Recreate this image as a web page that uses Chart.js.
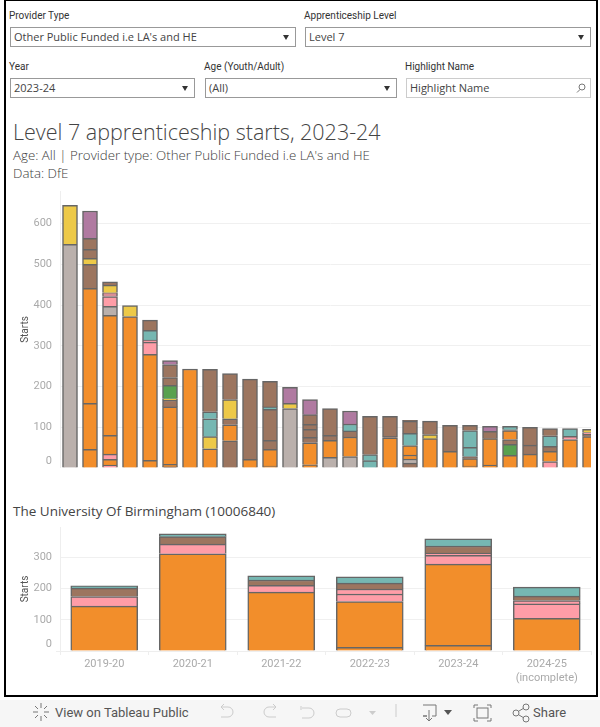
<!DOCTYPE html>
<html>
<head>
<meta charset="utf-8">
<script src="https://cdn.jsdelivr.net/npm/chart.js@4"></script>
<style>
  html, body { margin: 0; padding: 0; background: #fff; }
  body { width: 600px; height: 727px; position: relative; overflow: hidden; font-family: "Open Sans", sans-serif; color: #333; }
  .frame { position: absolute; left: 4px; top: 0; width: 590px; height: 694px; border: 2px solid #000; border-top: 1px solid #000; }
  .lbl { position: absolute; font-size: 10px; line-height: 12px; color: #333; font-family: "Roboto", sans-serif; }
  .box { position: absolute; height: 18px; border: 1px solid #999; font-size: 11px; line-height: 18px; padding-left: 3px; color: #444; }
  .box i { position: absolute; right: 6px; top: 7px; width: 0; height: 0; border-left: 3.5px solid transparent; border-right: 3.5px solid transparent; border-top: 5px solid #333; }
  .search { border-color: #ccc; }
  .txt { position: absolute; white-space: nowrap; }
  .wrap { position: absolute; overflow: hidden; }
  canvas { display: block; }
  .bar { position: absolute; left: 0; top: 700px; width: 600px; height: 27px; background: #f6f6f6; color: #555; font-family: "Roboto", sans-serif; font-size: 13px; }
  .bar svg { position: absolute; top: -4px; left: 0; }
</style>
</head>
<body>
<div class="frame"></div>

<div class="lbl" style="left:9px;top:10px">Provider Type</div>
<div class="box" style="left:10px;top:27px;width:281px">Other Public Funded i.e LA's and HE<i></i></div>
<div class="lbl" style="left:304px;top:10px">Apprenticeship Level</div>
<div class="box" style="left:305px;top:27px;width:281px">Level 7<i></i></div>
<div class="lbl" style="left:9px;top:61px">Year</div>
<div class="box" style="left:10px;top:78px;width:180px">2023-24<i></i></div>
<div class="lbl" style="left:204px;top:61px">Age (Youth/Adult)</div>
<div class="box" style="left:205px;top:78px;width:187px">(All)<i></i></div>
<div class="lbl" style="left:405px;top:61px">Highlight Name</div>
<div class="box search" style="left:406px;top:78px;width:180px">Highlight Name
  <svg width="10" height="10" style="position:absolute;right:4px;top:4px" fill="none" stroke="#777"><circle cx="6" cy="4" r="3"/><path d="M4 6.500L1 9.500"/></svg>
</div>

<div class="txt" style="left:13px;top:118px;font-size:21.5px;line-height:28px;font-weight:300;color:#444">Level 7 apprenticeship starts, 2023-24</div>
<div class="txt" style="left:13px;top:146px;font-size:13.3px;line-height:18px;color:#3c3c3c;font-weight:300">Age: All | Provider type: Other Public Funded i.e LA's and HE</div>
<div class="txt" style="left:13px;top:164px;font-size:13.3px;line-height:18px;color:#3c3c3c;font-weight:300">Data: DfE</div>

<div class="wrap" style="left:0;top:185px;width:591px;height:290px">
  <canvas id="providerChart" width="600" height="283"></canvas>
</div>

<div class="txt" style="left:13px;top:502px;font-size:13.5px;line-height:18px;color:#444">The University Of Birmingham (10006840)</div>

<div class="wrap" style="left:0;top:520px;width:594px;height:170px">
  <canvas id="yearChart" width="594" height="170"></canvas>
</div>

<div class="bar">
  <svg width="600" height="31" fill="none" stroke="#777" stroke-width="1">
    <path d="M41 7v5M41 20v5M33 16h5M44 16h5M35 10l3 3M47 10l-3 3M35 22l3-3M47 22l-3-3" />
    <path d="M221 11h7a5 5 0 0 1 0 10h-7M221 11l3-3M221 11l3 3" stroke="#ccc"/>
    <path d="M276 11h-7a5 5 0 0 0 0 10h7M276 11l-3-3M276 11l-3 3" stroke="#ccc"/>
    <path d="M301 10v4M302 12h7a5 5 0 0 1 0 10h-7" stroke="#ccc"/>
    <path d="M347 13h-7a4 4 0 0 0 0 8h7a4 4 0 0 0 0-8" stroke="#ccc"/>
    <path d="M369 15h7l-3.500 4z" fill="#ccc" stroke="none"/>
    <path d="M396 8v13" stroke="#ccc"/>
    <path d="M423 9h13v11h-4M427 20h-4zM429 14v10M426 22l3 3 3-3"/>
    <path d="M444 14h8l-4 5z" fill="#555" stroke="none"/>
    <path d="M474 12v-3h4M487 9h4v3M491 22v3h-4M478 25h-4v-3"/>
    <rect x="477" y="12" width="11" height="10"/>
    <circle cx="516" cy="17" r="3"/><circle cx="526" cy="11" r="3"/><circle cx="526" cy="23" r="3"/>
    <path d="M519 15l5-3M519 19l5 3"/>
  </svg>
  <div class="txt" style="left:55px;top:5px">View on Tableau Public</div>
  <div class="txt" style="left:533px;top:5px">Share</div>
</div>

<script>
// sector colours, one letter per stack segment
const palette = {
  O: '#f28e2b', B: '#9c755f', P: '#ff9da7', T: '#76b7b2',
  Y: '#edc948', U: '#b07aa1', G: '#59a14f', A: '#bab0ac'
};

// top chart: providers, bottom segment first
const providerSegments = [
  [549, 96],
  [46, 113, 282, 59, 15, 22, 27, 67],
  [7, 14, 13, 46, 295, 22, 24, 4, 5, 19, 8],
  [372, 27],
  [19, 260, 30, 5, 24, 25],
  [3, 6, 141, 17, 3, 33, 19, 32, 10],
  [243],
  [47, 30, 44, 17, 104],
  [67, 39, 15, 47, 64],
  [21, 197],
  [5, 41, 22, 76, 6, 63],
  [146, 13, 39],
  [8, 54, 13, 20, 12, 24, 37],
  [26, 42, 12, 66],
  [28, 48, 15, 17, 32],
  [18, 15, 94],
  [74, 4, 49],
  [12, 10, 10, 23, 30, 30, 2],
  [72, 10, 33],
  [41, 64],
  [5, 18, 5, 23, 41, 13],
  [7, 65, 18, 12],
  [31, 27, 12, 22, 2, 8],
  [34, 22, 44],
  [16, 25, 12, 26, 18],
  [70, 8, 19],
  [77, 6, 4, 8]
];
const providerSectors = [
  'AY', 'OOOBYBBU', 'POPOOAPPPYB', 'OY', 'OOPPTB', 'BOOBYGBBU', 'O', 'OYTTB', 'BOBYB',
  'OB', 'OOBBTB', 'AYU', 'OOBBBBU', 'AOBB', 'AOBTU', 'TTB', 'OBB', 'BAOOTBB', 'OYB',
  'OB', 'OOBTTB', 'OOBU', 'OGBOBT', 'OBB', 'POBTB', 'OPT', 'OBPY'
];
const providerTicks = [0, 100, 200, 300, 400, 500, 600];

// bottom chart: selected provider by year
const yearLabels = ['2019-20', '2020-21', '2021-22', '2022-23', '2023-24', ['2024-25', '(incomplete)']];
const yearSegments = [
  [144, 31, 27, 7],
  [312, 31, 24, 9],
  [189, 22, 17, 13],
  [12, 147, 24, 16, 19, 20],
  [18, 261, 28, 7, 23, 23],
  [105, 46, 11, 14, 29]
];
const yearSectors = ['OPBT', 'OPBT', 'OPBT', 'OOPPBT', 'OOPPBT', 'OPPBT'];
const yearTicks = [0, 100, 200, 300];

const axisFont = { family: 'Roboto', size: 11 };

function stackDatasets(segments, sectors) {
  const depth = Math.max(...segments.map(s => s.length));
  const out = [];
  for (let j = 0; j < depth; j++) {
    out.push({
      data: segments.map(s => s[j] ?? null),
      backgroundColor: sectors.map(c => palette[c[j]] || 'transparent'),
      borderColor: '#666',
      borderWidth: 1.5
    });
  }
  return out;
}

function yAxis(max, tickValues, labelPad, tickLen) {
  return {
    stacked: true,
    min: 0,
    max: max,
    afterBuildTicks: s => { s.ticks = tickValues.map(v => ({ value: v })); },
    afterFit: s => { s.width = 60; s.paddingTop = 0; s.paddingBottom = 0; },
    border: { color: '#eeeeee' },
    grid: {
      color: '#f0f0f0',
      tickLength: tickLen,
      tickColor: c => (c.tick && c.tick.value === 0 ? '#eeeeee' : 'transparent')
    },
    ticks: {
      padding: labelPad,
      color: '#aaaaaa',
      font: axisFont,
      callback: v => (v === 0 ? ['0', ''] : v)
    },
    title: {
      display: true,
      text: 'Starts',
      color: '#555',
      font: { family: 'Roboto', size: 10 },
      padding: { top: 19, bottom: 0 }
    }
  };
}

new Chart(document.getElementById('providerChart'), {
  type: 'bar',
  data: {
    labels: providerSegments.map((s, i) => i + 1),
    datasets: stackDatasets(providerSegments, providerSectors)
  },
  options: {
    responsive: false,
    animation: false,
    layout: { padding: { top: 6, left: 0, right: 0, bottom: 0 } },
    datasets: { bar: { barThickness: 15 } },
    plugins: { legend: { display: false }, tooltip: { enabled: false } },
    scales: {
      x: { stacked: true, display: false },
      y: yAxis(680, providerTicks, 8, 0)
    }
  }
});

new Chart(document.getElementById('yearChart'), {
  type: 'bar',
  data: {
    labels: yearLabels,
    datasets: stackDatasets(yearSegments, yearSectors)
  },
  options: {
    responsive: false,
    animation: false,
    layout: { padding: { top: 7, left: 0, right: 3, bottom: 0 } },
    datasets: { bar: { barThickness: 67 } },
    plugins: { legend: { display: false }, tooltip: { enabled: false } },
    scales: {
      x: {
        stacked: true,
        afterFit: s => { s.height = 39; },
        border: { color: '#eeeeee' },
        grid: { drawOnChartArea: false, tickLength: 4, tickColor: '#eeeeee' },
        ticks: { color: '#aaaaaa', font: axisFont, padding: 3, maxRotation: 0 }
      },
      y: yAxis(398, yearTicks, 4, 4)
    }
  }
});
</script>
</body>
</html>
